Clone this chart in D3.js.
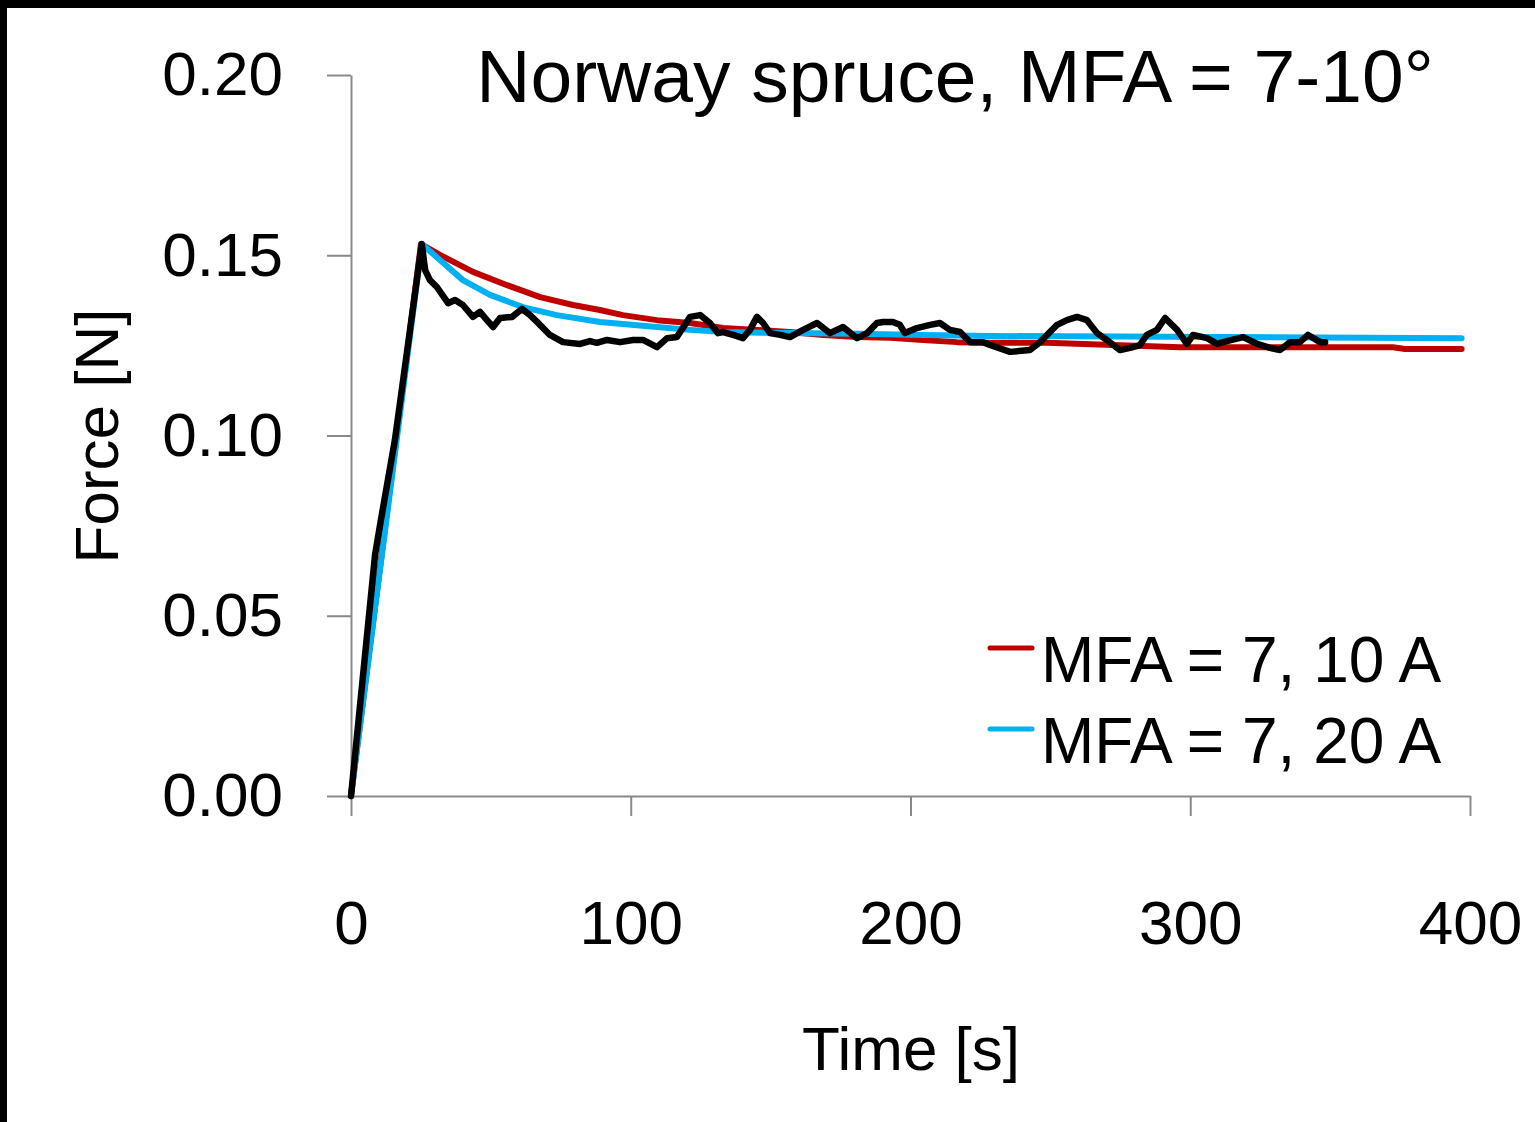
<!DOCTYPE html>
<html>
<head>
<meta charset="utf-8">
<script src="https://cdn.jsdelivr.net/npm/d3@7"></script>
<style>
  body { margin: 0; background: #fff; }
  svg { display: block; font-family: "Liberation Sans", Arial, sans-serif; }
</style>
</head>
<body>
<svg id="chart" width="1535" height="1122"></svg>
<script>
// chart values
const titleText = "Norway spruce, MFA = 7-10°";
const xTicks = [0, 100, 200, 300, 400];
const yTicks = [0, 0.05, 0.10, 0.15, 0.20];
const legendLabels = ["MFA = 7, 10 A", "MFA = 7, 20 A"];

const redTime = [0, 25, 31.8, 43.6, 55.8, 67.6, 79.4, 89, 97.2, 109.4, 121.2, 133, 145.1, 156.9, 168.7,
  180.9, 192.7, 204.5, 216.6, 228.4, 248.8, 272.4, 296.3, 343.9, 372.5, 376.8, 397];
const redForce = [0, 0.1531, 0.1501, 0.1454, 0.1417, 0.1384, 0.1362, 0.1348, 0.1334, 0.1320, 0.1312, 0.1298,
  0.1293, 0.1287, 0.1279, 0.1273, 0.1271, 0.1265, 0.1259, 0.1257, 0.1257, 0.1251, 0.1245, 0.1245, 0.1245,
  0.1240, 0.1240];

const blueTime = [0, 25.3, 31.8, 40, 49.7, 61.5, 73.6, 89, 97.2, 109.4, 121.2, 133, 156.9, 180.9, 204.5, 228.4, 397];
const blueForce = [0, 0.1531, 0.1487, 0.1431, 0.1390, 0.1356, 0.1334, 0.1315, 0.1309, 0.1301, 0.1293, 0.1287,
  0.1284, 0.1282, 0.1279, 0.1276, 0.1270];

// measured curve (black)
const blackTime = [0, 8.6, 10.7, 15.7, 21.1, 25.3, 26.5, 28.2, 30.7, 34.7, 37.2, 40, 43.6, 46.1, 48.6, 50.8,
  53.3, 57.6, 61.1, 64, 66.5, 71.1, 75.8, 81.9, 85.4, 87.9, 91.5, 96.2, 100.8, 104.4, 109.4, 113, 116.5,
  121.2, 124.8, 128.3, 131.2, 133, 136.6, 140.1, 142.6, 145.1, 147.3, 149.8, 153.4, 156.9, 161.6, 166.6,
  171.2, 175.9, 180.9, 184.5, 188, 190.2, 193.7, 196.2, 198, 202.3, 207, 210.5, 214.1, 217.7, 221.3, 225.9,
  228.4, 235.6, 242.7, 246.3, 248.8, 252.4, 255.9, 259.5, 263.1, 266.7, 270.2, 274.9, 278.5, 282, 284.5,
  288.1, 291, 295.3, 298.8, 301, 306, 309.6, 313.1, 318.9, 323.9, 328.5, 332.1, 335.7, 339.2, 342.1, 346.4, 348.2];
const blackForce = [0, 0.0669, 0.0766, 0.0988, 0.1293, 0.1531, 0.1459, 0.1431, 0.1412, 0.1367, 0.1376, 0.1362,
  0.1329, 0.1343, 0.1320, 0.1301, 0.1326, 0.1329, 0.1351, 0.1334, 0.1315, 0.1279, 0.1259, 0.1254, 0.1262,
  0.1257, 0.1265, 0.1259, 0.1265, 0.1265, 0.1245, 0.1270, 0.1273, 0.1329, 0.1334, 0.1312, 0.1284, 0.1287,
  0.1279, 0.1270, 0.1293, 0.1329, 0.1312, 0.1284, 0.1279, 0.1273, 0.1293, 0.1312, 0.1284, 0.1301, 0.1270,
  0.1284, 0.1312, 0.1315, 0.1315, 0.1307, 0.1284, 0.1298, 0.1307, 0.1312, 0.1293, 0.1287, 0.1259, 0.1259,
  0.1251, 0.1232, 0.1237, 0.1259, 0.1279, 0.1307, 0.1320, 0.1329, 0.1320, 0.1284, 0.1265, 0.1237, 0.1243,
  0.1251, 0.1279, 0.1293, 0.1326, 0.1293, 0.1254, 0.1279, 0.1270, 0.1254, 0.1262, 0.1273, 0.1254, 0.1243,
  0.1237, 0.1259, 0.1259, 0.1279, 0.1259, 0.1259];

const svg = d3.select("#chart");

// white page with the black frame on top and left
svg.append("rect").attr("width", 1535).attr("height", 1122).attr("fill", "#fff");
svg.append("rect").attr("width", 1535).attr("height", 8).attr("fill", "#000");
svg.append("rect").attr("width", 7).attr("height", 1122).attr("fill", "#000");

let x = d3.scaleLinear().domain([0, 400]).range([351, 1470]);
let y = d3.scaleLinear().domain([0, 0.2]).range([796, 75]);

const axisGray = "#898989";

let xAxis = d3.axisBottom(x).tickValues(xTicks).tickSize(20).tickSizeOuter(0).tickPadding(84)
  .tickFormat(d3.format("d"));
let yAxis = d3.axisLeft(y).tickValues(yTicks).tickSize(24).tickSizeOuter(0).tickPadding(44)
  .tickFormat(d3.format(".2f"));

let gx = svg.append("g").attr("transform", "translate(0,796)").call(xAxis);
let gy = svg.append("g").attr("transform", "translate(351,0)").call(yAxis);

[gx, gy].forEach(g => {
  g.select(".domain").attr("stroke", axisGray).attr("stroke-width", 2);
  g.selectAll(".tick line").attr("stroke", axisGray).attr("stroke-width", 2);
  g.selectAll(".tick text").attr("fill", "#000").style("font-size", "62px")
    .style("font-family", "'Liberation Sans', Arial, sans-serif");
});

// series
let line = d3.line().x(d => x(d[0])).y(d => y(d[1])).curve(d3.curveLinear);
const series = [
  { t: redTime, f: redForce, color: "#C00000", w: 6 },
  { t: blueTime, f: blueForce, color: "#00B0F0", w: 6 },
  { t: blackTime, f: blackForce, color: "#000000", w: 6.5 }
];
series.forEach(s => {
  svg.append("path")
    .attr("d", line(s.t.map((t, i) => [t, s.f[i]])))
    .attr("fill", "none")
    .attr("stroke", s.color)
    .style("stroke-width", s.w + "px")
    .attr("stroke-linejoin", "round")
    .attr("stroke-linecap", "round");
});

// title
svg.append("text").attr("x", 955).attr("y", 102).attr("text-anchor", "middle")
  .style("font-size", "75px").text(titleText);

// axis titles
svg.append("text").attr("x", 911).attr("y", 1070).attr("text-anchor", "middle")
  .style("font-size", "62px").text("Time [s]");
svg.append("text").attr("transform", "translate(118,436) rotate(-90)").attr("text-anchor", "middle")
  .style("font-size", "62px").text("Force [N]");

// legend
const legendColors = ["#C00000", "#00B0F0"];
legendLabels.forEach((lab, i) => {
  let ly = 648 + i * 81;
  svg.append("line").attr("x1", 990).attr("x2", 1032).attr("y1", ly).attr("y2", ly)
    .attr("stroke", legendColors[i]).style("stroke-width", "5px").attr("stroke-linecap", "round");
  svg.append("text").attr("x", 1041).attr("y", ly + 34)
    .style("font-size", "64px").text(lab);
});
</script>
</body>
</html>
